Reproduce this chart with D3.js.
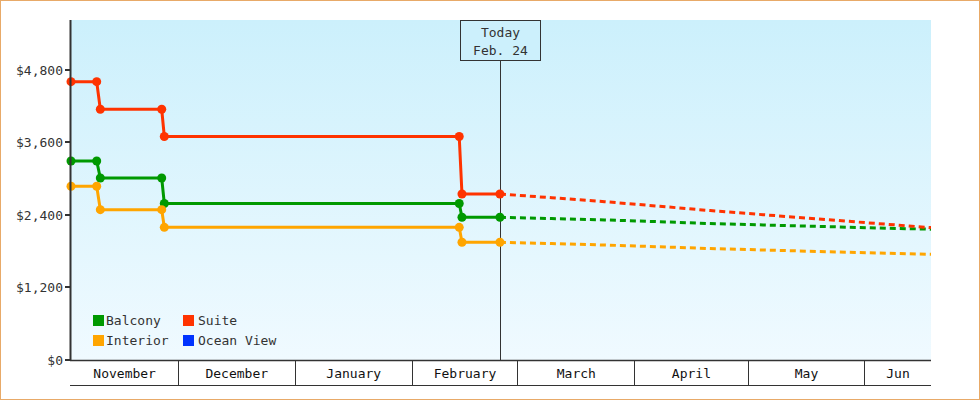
<!DOCTYPE html>
<html>
<head>
<meta charset="utf-8">
<script src="https://cdn.jsdelivr.net/npm/d3@7"></script>
<style>
  html, body { margin: 0; padding: 0; background: #fff; }
  svg { display: block; font-family: "DejaVu Sans Mono", monospace; }
</style>
</head>
<body>
<svg id="chart" width="980" height="400"></svg>
<script>
// ---- data ----
const seriesNames = ["Balcony", "Interior", "Suite", "Ocean View"];
const seriesColors = ["#009900", "#ffa500", "#ff3300", "#0033ff"];

const historyDates = ["2018-11-02T13:30", "2018-11-09T09:00", "2018-11-10T08:00", "2018-11-26T14:30",
                      "2018-11-27T07:00", "2019-02-13T11:00", "2019-02-14T04:30", "2019-02-24T06:00"];
const balconyHistory = [3294, 3294, 3012, 3012, 2590, 2590, 2362, 2362];
const interiorHistory = [2875, 2875, 2488, 2488, 2196, 2196, 1948, 1948];
const suiteHistory = [4606, 4606, 4150, 4150, 3699, 3699, 2748, 2748];
const oceanHistory = [];

const forecastDates = ["2019-02-24T06:00", "2019-03-10T00:00", "2019-03-24T00:00", "2019-04-07T00:00",
                       "2019-04-21T00:00", "2019-05-05T00:00", "2019-05-19T00:00", "2019-06-02T00:00",
                       "2019-06-18T12:00"];
const balconyForecast = [2362, 2341, 2319, 2290, 2258, 2235, 2212, 2189, 2164];
const interiorForecast = [1948, 1927, 1903, 1875, 1844, 1821, 1797, 1774, 1750];
const suiteForecast = [2748, 2685, 2620, 2547, 2473, 2405, 2337, 2269, 2191];
const oceanForecast = [];

const yTicks = [0, 1200, 2400, 3600, 4800];
const monthStarts = ["2018-11-02T13:30", "2018-12-01T00:00", "2019-01-01T00:00", "2019-02-01T00:00",
                     "2019-03-01T00:00", "2019-04-01T00:00", "2019-05-01T00:00", "2019-06-01T00:00", "2019-06-18T12:00"];
const monthLabels = ["November", "December", "January", "February", "March", "April", "May", "Jun"];
const todayDate = "2019-02-24T06:00";
const todayLabel = ["Today", "Feb. 24"];

// ---- layout ----
const W = 980, H = 400;
const L = 71, R = 931, T = 20, B = 360;
const svg = d3.select("#chart");

const x = d3.scaleTime()
  .domain([new Date(monthStarts[0]), new Date(monthStarts[monthStarts.length - 1])])
  .range([L, R]);
const y = d3.scaleLinear().domain([0, 5627]).range([B, T]);

// outer border
svg.append("rect").attr("x", 0.5).attr("y", 0.5).attr("width", W - 1).attr("height", H - 1)
  .attr("fill", "#fff").attr("stroke", "#e8aa68").attr("stroke-width", 1);

// gradient plot bg
const defs = svg.append("defs");
const grad = defs.append("linearGradient").attr("id", "bg").attr("x1", 0).attr("y1", 0).attr("x2", 0).attr("y2", 1);
grad.append("stop").attr("offset", "0%").attr("stop-color", "#ccf0fc");
grad.append("stop").attr("offset", "100%").attr("stop-color", "#f0faff");
svg.append("rect").attr("x", L).attr("y", T).attr("width", R - L).attr("height", B - T).attr("fill", "url(#bg)");

const clip = defs.append("clipPath").attr("id", "clip");
clip.append("rect").attr("x", L - 6).attr("y", T - 6).attr("width", R - L + 6).attr("height", B - T + 12);

// today line and box
const tx = Math.round(x(new Date(todayDate))) + 0.5;
svg.append("line").attr("x1", tx).attr("x2", tx).attr("y1", 60).attr("y2", B)
  .attr("stroke", "#333").attr("stroke-width", 1);
svg.append("rect").attr("x", tx - 40).attr("y", 20.5).attr("width", 80).attr("height", 40)
  .attr("fill", "#ccf0fc").attr("stroke", "#333").attr("stroke-width", 1);
svg.append("text").attr("x", tx).attr("y", 37).attr("text-anchor", "middle")
  .attr("font-size", 13).attr("fill", "#333").text(todayLabel[0]);
svg.append("text").attr("x", tx).attr("y", 55).attr("text-anchor", "middle")
  .attr("font-size", 13).attr("fill", "#333").text(todayLabel[1]);

// series
const history = [balconyHistory, interiorHistory, suiteHistory, oceanHistory];
const forecast = [balconyForecast, interiorForecast, suiteForecast, oceanForecast];
const line = d3.line().x(d => x(d[0])).y(d => y(d[1]));
const g = svg.append("g").attr("clip-path", "url(#clip)");

seriesNames.forEach((name, i) => {
  const hist = history[i].map((v, j) => [new Date(historyDates[j]), v]);
  const fc = forecast[i].map((v, j) => [new Date(forecastDates[j]), v]);
  if (fc.length) {
    g.append("path").datum(fc).attr("d", line).attr("fill", "none")
      .attr("stroke", seriesColors[i]).attr("stroke-width", 3).attr("stroke-dasharray", "6,4");
  }
  if (hist.length) {
    g.append("path").datum(hist).attr("d", line).attr("fill", "none")
      .attr("stroke", seriesColors[i]).attr("stroke-width", 3);
    g.selectAll(null).data(hist).enter().append("circle")
      .attr("cx", d => x(d[0])).attr("cy", d => y(d[1])).attr("r", 4.5)
      .attr("fill", seriesColors[i]);
  }
});

// y axis
svg.append("line").attr("x1", L - 0.5).attr("x2", L - 0.5).attr("y1", T).attr("y2", B + 1)
  .attr("stroke", "#333").attr("stroke-width", 2);
const fmt = d3.format(",");
yTicks.forEach(v => {
  const yy = Math.round(y(v));
  svg.append("line").attr("x1", L - 6).attr("x2", L).attr("y1", yy).attr("y2", yy)
    .attr("stroke", "#333").attr("stroke-width", 2);
  svg.append("text").attr("x", L - 8).attr("y", yy + 5).attr("text-anchor", "end")
    .attr("font-size", 13).attr("fill", "#333").text("$" + fmt(v));
});

// x axis (month bands)
svg.append("line").attr("x1", L - 1).attr("x2", R).attr("y1", B + 0.5).attr("y2", B + 0.5)
  .attr("stroke", "#333").attr("stroke-width", 1.5);
svg.append("line").attr("x1", L - 1).attr("x2", R).attr("y1", 385.5).attr("y2", 385.5)
  .attr("stroke", "#333").attr("stroke-width", 1);
monthLabels.forEach((m, i) => {
  const x0 = x(new Date(monthStarts[i])), x1 = x(new Date(monthStarts[i + 1]));
  if (i > 0) {
    const sx = Math.floor(x0) + 0.5;
    svg.append("line").attr("x1", sx).attr("x2", sx).attr("y1", B).attr("y2", 385)
      .attr("stroke", "#333").attr("stroke-width", 1);
  }
  svg.append("text").attr("x", (x0 + x1) / 2).attr("y", 378).attr("text-anchor", "middle")
    .attr("font-size", 13).attr("fill", "#111").text(m);
});

// legend
const legPos = [[93, 315], [93, 335], [183, 315], [183, 335]];
const legTextX = [106, 106, 198, 198];
seriesNames.forEach((name, i) => {
  const [lx, ly] = legPos[i];
  svg.append("rect").attr("x", lx).attr("y", ly).attr("width", 11).attr("height", 11).attr("fill", seriesColors[i]);
  svg.append("text").attr("x", legTextX[i]).attr("y", ly + 10).attr("font-size", 13).attr("fill", "#333").text(name);
});
</script>
</body>
</html>
